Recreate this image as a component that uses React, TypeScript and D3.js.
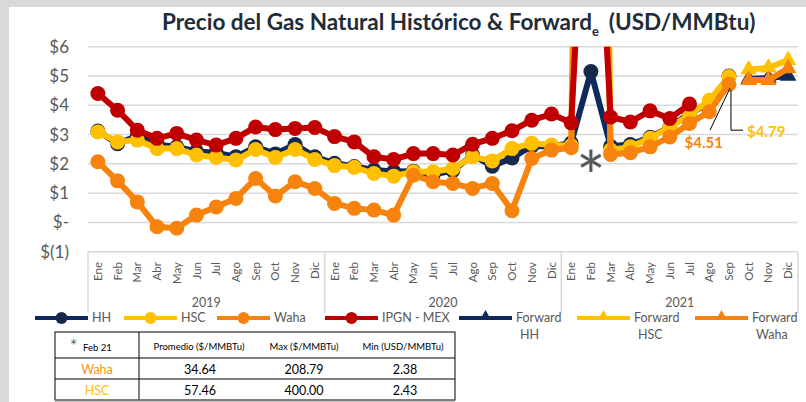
import React from 'react'
import * as d3 from 'd3'

// categorias del eje X
const years = ['2019', '2020', '2021']
const months = ['Ene', 'Feb', 'Mar', 'Abr', 'May', 'Jun', 'Jul', 'Ago', 'Sep', 'Oct', 'Nov', 'Dic']
const yTicks = [-1, 0, 1, 2, 3, 4, 5, 6]

// precios mensuales (USD/MMBtu), null = sin dato
const hh = [
  3.12, 2.69, 2.95, 2.66, 2.58, 2.42, 2.38, 2.24, 2.58, 2.34, 2.66, 2.24,
  2.02, 1.91, 1.79, 1.74, 1.75, 1.63, 1.77, 2.3, 1.92, 2.2, 2.61, 2.59,
  2.71, 5.15, 2.6, 2.66, 2.91, 3.26, 3.72, 4.07, 5.0, null, null, null
]
const hsc = [
  3.09, 2.75, 2.81, 2.52, 2.52, 2.3, 2.22, 2.13, 2.49, 2.22, 2.49, 2.15,
  1.94, 1.88, 1.67, 1.58, 1.73, 1.73, 1.84, 2.24, 2.1, 2.52, 2.7, 2.64,
  2.62, 57.46, 2.47, 2.58, 2.87, 3.26, 3.66, 4.17, 4.98, null, null, null
]
const waha = [
  2.07, 1.42, 0.7, -0.15, -0.2, 0.25, 0.53, 0.82, 1.5, 0.9, 1.39, 1.16,
  0.65, 0.48, 0.42, 0.25, 1.61, 1.39, 1.33, 1.16, 1.33, 0.4, 2.18, 2.47,
  2.55, 34.64, 2.32, 2.38, 2.58, 2.92, 3.38, 3.78, 4.72, null, null, null
]
const ipgn = [
  4.4, 3.83, 3.15, 2.87, 3.04, 2.81, 2.64, 2.87, 3.26, 3.17, 3.21, 3.24,
  2.93, 2.75, 2.24, 2.15, 2.35, 2.35, 2.3, 2.67, 2.87, 3.13, 3.49, 3.7,
  3.4, 16, 3.6, 3.43, 3.81, 3.55, 4.04, null, null, null, null, null
]
const pad33 = new Array(33).fill(null)
const fwdHH = [...pad33, 4.9, 4.93, 5.0]
const fwdHSC = [...pad33, 5.22, 5.28, 5.54]
const fwdWaha = [...pad33, 4.86, 4.86, 5.26]

// tabla feb 21
const tableHead = ['Promedio ($/MMBTu)', 'Max ($/MMBTu)', 'Min (USD/MMBTu)']
const tableRows = [
  { name: 'Waha', color: '#F7941D', vals: ['34.64', '208.79', '2.38'] },
  { name: 'HSC', color: '#FFC000', vals: ['57.46', '400.00', '2.43'] }
]

const NAVY = '#0E2A5C'
const NAVY_DOT = '#17294A'
const YELLOW = '#FFC000'
const ORANGE = '#F7830F'
const RED = '#C00000'
const GRAY = '#595959'
const FONT = 'Lato, "Open Sans", sans-serif'

const series = [
  { key: 'hh', vals: hh, color: NAVY, dot: NAVY_DOT, tri: false },
  { key: 'hsc', vals: hsc, color: YELLOW, dot: YELLOW, tri: false },
  { key: 'waha', vals: waha, color: ORANGE, dot: ORANGE, tri: false },
  { key: 'ipgn', vals: ipgn, color: RED, dot: RED, tri: false },
  { key: 'fhh', vals: fwdHH, color: NAVY, dot: NAVY, tri: true },
  { key: 'fhsc', vals: fwdHSC, color: YELLOW, dot: YELLOW, tri: true },
  { key: 'fwaha', vals: fwdWaha, color: ORANGE, dot: ORANGE, tri: true }
]

const legend = [
  { label: ['HH'], color: NAVY, dot: NAVY_DOT, tri: false, x0: 35 },
  { label: ['HSC'], color: YELLOW, dot: YELLOW, tri: false, x0: 124 },
  { label: ['Waha'], color: ORANGE, dot: ORANGE, tri: false, x0: 217 },
  { label: ['IPGN - MEX'], color: RED, dot: RED, tri: false, x0: 325 },
  { label: ['Forward', 'HH'], color: NAVY, dot: NAVY, tri: true, x0: 459 },
  { label: ['Forward', 'HSC'], color: YELLOW, dot: YELLOW, tri: true, x0: 577 },
  { label: ['Forward', 'Waha'], color: ORANGE, dot: ORANGE, tri: true, x0: 695 }
]

const W = 806
const H = 402
const left = 88
const right = 798
const top = 46.7
const bottom = 251.7

export default function App() {
  const cats = years.flatMap(y => months.map(m => `${m}-${y}`))
  const x = d3.scaleBand<string>().domain(cats).range([left, right])
  const bw = x.bandwidth()
  const cx = (i: number) => (x(cats[i]) as number) + bw / 2
  const y = d3.scaleLinear().domain([-1, 6]).range([bottom, top])

  const line = d3
    .line<number | null>()
    .defined(d => d !== null)
    .x((_, i) => cx(i))
    .y(d => y(d as number))

  const tri = d3.symbol().type(d3.symbolTriangle).size(120)
  const triSmall = d3.symbol().type(d3.symbolTriangle).size(45)

  // etiquetas de Sep 21
  const sep = 32
  const ax = cx(sep)
  const ay = y(waha[sep] as number)

  return (
    <svg width={W} height={H} style={{ position: 'absolute', left: 0, top: 0, fontFamily: FONT }}>
      <rect x={0} y={0} width={W} height={H} fill="#d9d9d9" />
      <rect x={9} y={7} width={W - 9} height={H - 7} fill="#fff" />

      {/* titulo */}
      <text x={162} y={30} fontSize={22.5} fontWeight={700} fill="#222B38">
        Precio del Gas Natural Histórico &amp; Forward
        <tspan fontSize={13} dy={6}>e</tspan>
        <tspan dy={-6} dx={10}>(USD/MMBtu)</tspan>
      </text>

      {/* grid */}
      {yTicks.map(t => (
        <g key={t}>
          {t > -1 && <line x1={left} x2={right} y1={y(t)} y2={y(t)} stroke="#d9d9d9" strokeWidth={1.5} />}
          <text x={69} y={y(t)} dy="0.35em" textAnchor="end" fontSize={17} fill={GRAY}>
            {t === 0 ? '$-' : t < 0 ? `$(${-t})` : `$${t}`}
          </text>
        </g>
      ))}

      {/* eje de categorias */}
      <line x1={left} x2={right} y1={bottom} y2={bottom} stroke="#d9d9d9" strokeWidth={1.5} />
      {[0, 12, 24, 36].map(i => {
        const xx = i === 36 ? right : (x(cats[i]) as number)
        return <line key={i} x1={xx} x2={xx} y1={bottom} y2={313} stroke="#d9d9d9" strokeWidth={1.5} />
      })}
      {cats.map((c, i) => (
        <text
          key={c}
          transform={`translate(${cx(i)},262) rotate(-90)`}
          dy="0.35em"
          textAnchor="end"
          fontSize={11.5}
          fill={GRAY}
        >
          {months[i % 12]}
        </text>
      ))}
      {years.map((yr, k) => (
        <text key={yr} x={cx(k * 12 + 5) + bw / 2} y={307} textAnchor="middle" fontSize={12.5} fill={GRAY}>
          {yr}
        </text>
      ))}

      <defs>
        <clipPath id="plot">
          <rect x={0} y={top} width={W} height={bottom - top + 20} />
        </clipPath>
      </defs>

      {/* series */}
      <g clipPath="url(#plot)">
        {series.map(s => (
          <g key={s.key}>
            <path d={line(s.vals) || ''} fill="none" stroke={s.color} strokeWidth={6} strokeLinejoin="round" />
            {s.vals.map((v, i) =>
              v === null ? null : s.tri ? (
                <path key={i} d={tri() || ''} transform={`translate(${cx(i)},${y(v)})`} fill={s.dot} />
              ) : (
                <circle key={i} cx={cx(i)} cy={y(v)} r={7.5} fill={s.dot} />
              )
            )}
          </g>
        ))}
      </g>

      <text x={cx(25)} y={y(1.96) + 37} textAnchor="middle" fontSize={70} fill={GRAY}>
        *
      </text>

      {/* anotaciones Sep 21 */}
      <polyline points={`${ax + 1},${ay + 4} ${ax - 19},${ay + 46}`} fill="none" stroke="#000" strokeWidth={1} />
      <polyline
        points={`${ax + 2},${ay + 6} ${ax + 2},${ay + 46} ${ax + 14},${ay + 46}`}
        fill="none"
        stroke="#000"
        strokeWidth={1}
      />
      <text x={ax - 6} y={ay + 64} textAnchor="end" fontSize={15} fontWeight={700} fill={ORANGE}>
        $4.51
      </text>
      <text x={ax + 18} y={ay + 53} fontSize={15} fontWeight={700} fill={YELLOW}>
        $4.79
      </text>

      {/* leyenda */}
      {legend.map(l => (
        <g key={l.x0}>
          <line x1={l.x0} x2={l.x0 + 53} y1={318} y2={318} stroke={l.color} strokeWidth={4} />
          {l.tri ? (
            <path d={triSmall() || ''} transform={`translate(${l.x0 + 26.5},316)`} fill={l.dot} />
          ) : (
            <circle cx={l.x0 + 26.5} cy={318} r={6} fill={l.dot} />
          )}
          {l.label.map((t, k) => (
            <text key={k} x={l.x0 + 57 + k * 4} y={318 + k * 17} dy="0.35em" fontSize={12.5} fill={GRAY}>
              {t}
            </text>
          ))}
        </g>
      ))}

      {/* tabla */}
      <g fontFamily={FONT}>
        <rect x={55} y={332} width={400} height={68} fill="#fff" stroke="#000" strokeWidth={1} />
        <line x1={139} x2={139} y1={332} y2={400} stroke="#000" />
        <line x1={55} x2={455} y1={358} y2={358} stroke="#000" />
        <line x1={55} x2={455} y1={379} y2={379} stroke="#000" />
        <line x1={55} x2={455} y1={400.5} y2={400.5} stroke="#808080" strokeWidth={2} />
        <text x={70} y={352} fontSize={17} fill={GRAY}>*</text>
        <text x={83} y={351} fontSize={9.5} fill="#000">Feb 21</text>
        {tableHead.map((h, k) => (
          <text key={h} x={[199, 304, 403][k]} y={350} textAnchor="middle" fontSize={9.5} fill="#000">
            {h}
          </text>
        ))}
        {tableRows.map((r, j) => (
          <g key={r.name}>
            <text x={97} y={374 + j * 20.5} textAnchor="middle" fontSize={12.5} fill={r.color}>
              {r.name}
            </text>
            {r.vals.map((v, k) => (
              <text key={k} x={[200, 304, 405][k]} y={374 + j * 20.5} textAnchor="middle" fontSize={12.5} fill="#000">
                {v}
              </text>
            ))}
          </g>
        ))}
      </g>
    </svg>
  )
}
